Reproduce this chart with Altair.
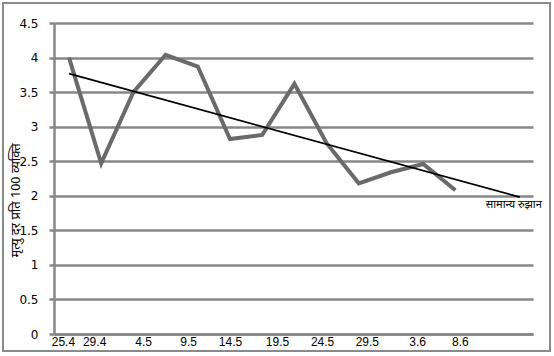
import altair as alt
import pandas as pd

# ---- data ----
point_pos = list(range(13))
death_rate = [4.00, 2.47, 3.50, 4.04, 3.87, 2.82, 2.88, 3.62, 2.76, 2.18, 2.34, 2.46, 2.08]
tick_pos = [-0.19, 0.78, 2.30, 3.70, 5.00, 6.46, 7.86, 9.25, 10.81, 12.14]
tick_labels = ["25.4", "29.4", "4.5", "9.5", "14.5", "19.5", "24.5", "29.5", "3.6", "8.6"]
y_ticks = [0, 0.5, 1, 1.5, 2, 2.5, 3, 3.5, 4, 4.5]
trend_extent = [0, 14]
trend_label = "सामान्य रुझान"
y_title = "मृत्यु दर प्रति 100 व्यक्ति"

GRID = "#878787"
LINE = "#6a6a6a"
DEVA = "Noto Sans Devanagari, Noto Sans, sans-serif"

df = pd.DataFrame({"pos": point_pos, "rate": death_rate})

x_scale = alt.Scale(domain=[-0.466, 14.41], nice=False, zero=False)
y_scale = alt.Scale(domain=[0, 4.5], nice=False)

label_expr = (
    "[" + ",".join(f"'{l}'" for l in tick_labels) + "]"
    + "[indexof([" + ",".join(str(p) for p in tick_pos) + "], datum.value)]"
)

x_axis = alt.Axis(
    values=tick_pos, labelExpr=label_expr, grid=False, ticks=False,
    domainColor=GRID, domainWidth=2.5, labelFont="Liberation Sans",
    labelFontSize=12, labelColor="black", labelPadding=2, labelAngle=0,
    title=None, labelFlush=False, labelOverlap=False,
)
y_axis = alt.Axis(
    values=y_ticks, format="~g", grid=True, gridColor=GRID, gridWidth=2.5,
    domainColor=GRID, domainWidth=2.5, tickColor=GRID, tickWidth=2.5,
    tickSize=5, labelFont="DejaVu Sans", labelFontSize=12, labelColor="black",
    labelPadding=11, labelOverlap=False, labelFlush=False,
    title=y_title, titleFont=DEVA, titleFontSize=13,
    titleFontWeight="normal", titleColor="black", titleAngle=270,
    titleX=-39, titleY=177, titleAlign="center", titleBaseline="middle",
)

X = alt.X("pos:Q", scale=x_scale, axis=x_axis)
Y = alt.Y("rate:Q", scale=y_scale, axis=y_axis)

base = alt.Chart(df)

line = base.mark_line(color=LINE, strokeWidth=4).encode(x=X, y=Y)

trend = base.transform_regression("pos", "rate", extent=trend_extent).mark_line(
    color="black", strokeWidth=1.8
).encode(x=X, y=Y)

trend_text = base.transform_regression("pos", "rate", extent=trend_extent).transform_filter(
    f"datum.pos >= {trend_extent[1]} - 0.01"
).mark_text(
    text=trend_label, font=DEVA, fontSize=11, color="black",
    align="center", baseline="middle", dx=-6, dy=8,
).encode(x=X, y=Y)

border = alt.Chart(pd.DataFrame({"a": [0]})).mark_rect(
    fillOpacity=0, stroke="#8a8a8a", strokeWidth=2
).encode(
    x=alt.value(-51), x2=alt.value(496), y=alt.value(-20), y2=alt.value(328)
)

chart = alt.layer(line, trend, trend_text, border).properties(
    width=479, height=311,
    autosize=alt.AutoSizeParams(type="none"),
    padding={"left": 54, "top": 23, "right": 21, "bottom": 22},
    background="white",
).configure_view(strokeWidth=0)

chart.save("out.html", embed_options={"renderer": "svg", "actions": False})
